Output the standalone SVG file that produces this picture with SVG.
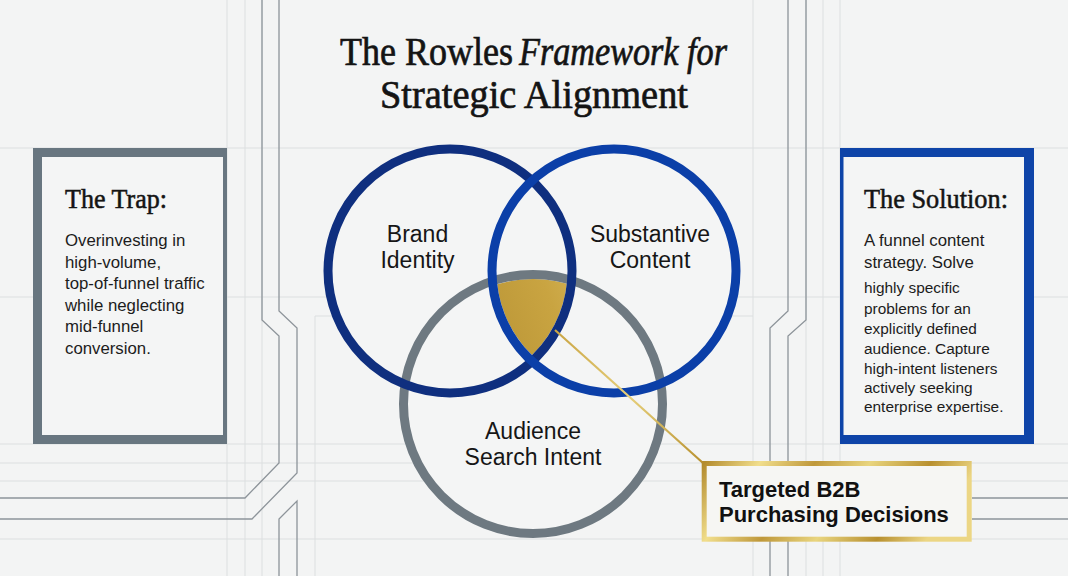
<svg xmlns="http://www.w3.org/2000/svg" width="1068" height="576" viewBox="0 0 1068 576">
<defs>
<style>
.grid{stroke:#dcdfe0;stroke-width:1;fill:none}
.path{stroke:#8d949a;stroke-width:1.3;fill:none}
.title{font-family:"Liberation Serif",serif;font-size:41px;fill:#141414;stroke:#141414;stroke-width:0.7}
.head{font-family:"Liberation Serif",serif;font-size:28px;fill:#141414;stroke:#141414;stroke-width:0.55}
.body{font-family:"Liberation Sans",Arial,sans-serif;font-size:16.8px;fill:#1c1c1c}
.small{font-size:15.4px}
.lbl{font-family:"Liberation Sans",Arial,sans-serif;font-size:23px;fill:#161616;text-anchor:middle}
.gbox{font-family:"Liberation Sans",Arial,sans-serif;font-size:22px;font-weight:bold;fill:#111}
.disk{fill:#f4f5f5;stroke:none}
</style>
<linearGradient id="gold" x1="0" y1="0.4" x2="1" y2="0">
<stop offset="0" stop-color="#a9852b"/>
<stop offset="0.6" stop-color="#c9a441"/>
<stop offset="1" stop-color="#e3c873"/>
</linearGradient>
<linearGradient id="goldFrame" x1="0" y1="0" x2="1" y2="0.2">
<stop offset="0" stop-color="#b48c2e"/>
<stop offset="0.2" stop-color="#f1de8c"/>
<stop offset="0.4" stop-color="#bf983a"/>
<stop offset="0.6" stop-color="#e9d57e"/>
<stop offset="0.82" stop-color="#b8902f"/>
<stop offset="1" stop-color="#ecd684"/>
</linearGradient>
<linearGradient id="goldLine" x1="0" y1="0" x2="1" y2="1">
<stop offset="0" stop-color="#c9a443"/>
<stop offset="0.5" stop-color="#e6cf7a"/>
<stop offset="1" stop-color="#b8912f"/>
</linearGradient>
<clipPath id="cB"><circle cx="450" cy="271" r="117.5"/></clipPath>
<clipPath id="cS"><circle cx="614" cy="271" r="117.5"/></clipPath>
</defs>
<rect width="1068" height="576" fill="#f3f4f4"/>
<g id="grid">
<path class="grid" d="M0,148H1068M0,297H1068M0,444H1068M0,463H1068M0,481H1068M0,539H1068"/>
<path class="grid" d="M227,0V576M245,0V576M262,0V576M753,0V576M806,0V576M823,0V576M840,0V576"/>
<path class="grid" d="M315,576V316H753"/>
<path class="path" d="M262,0V320L279,336V463L245,498H0"/>
<path class="path" d="M279,0V311L297,328V473L252,519H0"/>
<path class="path" d="M279,576V519L297,501V576"/>
<path class="path" d="M806,0V320L788,336V576"/>
<path class="path" d="M788,0V311L770,328V576"/>
<path class="path" d="M972,498H1068M972,519H1068"/>
</g>
<g id="title">
<text class="title" x="340" y="65" textLength="173" lengthAdjust="spacingAndGlyphs">The Rowles</text>
<text class="title" x="519" y="65" font-style="italic" textLength="208" lengthAdjust="spacingAndGlyphs">Framework for</text>
<text class="title" x="534" y="108" text-anchor="middle" textLength="308" lengthAdjust="spacingAndGlyphs">Strategic Alignment</text>
</g>
<g id="trap">
<rect x="33" y="148" width="194" height="296" fill="#687680"/>
<rect x="42" y="157" width="181" height="278" fill="#f4f5f5"/>
<text class="head" x="65" y="208" textLength="102" lengthAdjust="spacingAndGlyphs">The Trap:</text>
<text class="body" x="65" y="246">Overinvesting in</text>
<text class="body" x="65" y="267.5">high-volume,</text>
<text class="body" x="65" y="289">top-of-funnel traffic</text>
<text class="body" x="65" y="310.5">while neglecting</text>
<text class="body" x="65" y="332">mid-funnel</text>
<text class="body" x="65" y="353.5">conversion.</text>
</g>
<g id="solution">
<rect x="840" y="148" width="194" height="296" fill="#0e44a8"/>
<rect x="843.5" y="157" width="180.5" height="278" fill="#f4f5f5"/>
<text class="head" x="864" y="208" textLength="144" lengthAdjust="spacingAndGlyphs">The Solution:</text>
<text class="body" x="864" y="246">A funnel content</text>
<text class="body" x="864" y="268">strategy. Solve</text>
<text class="body small" x="864" y="293">highly specific</text>
<text class="body small" x="864" y="313.5">problems for an</text>
<text class="body small" x="864" y="334">explicitly defined</text>
<text class="body small" x="864" y="354">audience. Capture</text>
<text class="body small" x="864" y="373.5">high-intent listeners</text>
<text class="body small" x="864" y="392.5">actively seeking</text>
<text class="body small" x="864" y="412">enterprise expertise.</text>
</g>
<g id="venn-fills">
<circle class="disk" cx="533" cy="404" r="129.5"/>
<circle class="disk" cx="450" cy="271" r="122"/>
<circle class="disk" cx="614" cy="271" r="122"/>
</g>
<g id="intersection">
<g clip-path="url(#cB)"><g clip-path="url(#cS)"><circle cx="533" cy="404" r="125" fill="url(#gold)"/></g></g>
</g>
<g id="audience">
<circle cx="533" cy="404" r="129.5" fill="none" stroke="#6e7981" stroke-width="9"/>
<text class="lbl" x="533" y="439">Audience</text>
<text class="lbl" x="533" y="465">Search Intent</text>
</g>
<g id="brand">
<circle cx="450" cy="271" r="122" fill="none" stroke="#0f2f7f" stroke-width="9"/>
<text class="lbl" x="417.5" y="242">Brand</text>
<text class="lbl" x="417.5" y="268">Identity</text>
</g>
<g id="content">
<circle cx="614" cy="271" r="122" fill="none" stroke="#0b3fa8" stroke-width="9"/>
<text class="lbl" x="650" y="242">Substantive</text>
<text class="lbl" x="650" y="268">Content</text>
</g>
<g id="connectors">
<line x1="555" y1="330" x2="703" y2="463" stroke="url(#goldLine)" stroke-width="2.2"/>
</g>
<g id="result">
<rect x="704.2" y="463.5" width="265" height="75.7" fill="#f6f6f3" stroke="url(#goldFrame)" stroke-width="5"/>
<text class="gbox" x="719" y="497">Targeted B2B</text>
<text class="gbox" x="719" y="522">Purchasing Decisions</text>
</g>
</svg>
